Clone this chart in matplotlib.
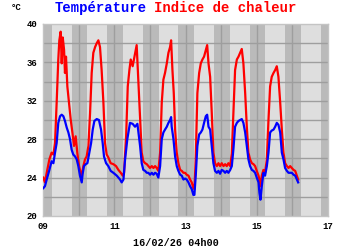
import matplotlib
matplotlib.use("Agg")
import matplotlib.pyplot as plt
import numpy as np

# ---- data (hours since 09/02 00h00) ----
temp_hours = [0.2, 1.3, 2.5, 4.3, 5.8, 7.0, 8.1, 9.2, 10.3, 11.5, 12.6, 13.7, 14.8, 16.0, 17.1,
              18.2, 19.3, 20.4, 21.6, 22.7, 23.8, 24.9, 26.1, 26.7, 27.6, 28.8, 29.9, 31.2, 32.4,
              33.5, 34.6, 36.2, 37.7, 39.1, 40.2, 41.1, 42.5, 44.0, 45.6, 47.4, 49.7, 51.9, 53.0,
              54.2, 55.3, 56.8, 58.6, 60.4, 62.0, 63.6, 64.9,
              65.4, 66.5, 67.6, 68.8, 69.9, 71.0, 72.1, 73.3, 74.4, 75.5, 76.6, 77.7, 78.9, 80.0,
              81.1, 82.2, 83.4, 84.5, 85.6, 86.3, 86.7, 87.9, 89.0, 90.1, 91.2, 92.4, 93.5, 94.6,
              95.7, 96.8, 98.0, 99.1, 100.2, 101.3, 102.0, 102.9, 104.0, 105.2, 106.3, 107.4,
              108.5, 109.7, 110.6, 111.5, 112.6, 113.7, 114.8, 115.9, 117.1, 118.2, 119.3, 120.4,
              121.6, 122.7, 123.8, 124.9, 126.1, 127.2, 128.3,
              129.4, 130.6, 131.7, 132.8, 133.9, 135.0, 136.2, 137.3, 138.4, 139.5, 140.7, 141.8,
              142.9, 144.0, 145.2, 145.8, 146.5, 147.4, 148.5, 149.6, 150.8, 151.9, 153.0, 154.1,
              155.3, 156.4, 157.5, 158.6, 159.8, 160.9, 162.0, 163.1, 164.3, 165.4, 166.5, 167.6,
              168.8, 169.9, 171.0, 171.9]
temperature = [22.9, 23.1, 23.8, 24.8, 25.7, 25.5, 26.6, 27.6, 29.7, 30.4, 30.55, 30.4, 29.9, 29.2, 28.7,
               28.0, 26.9, 26.4, 26.2, 25.9, 25.2, 24.2, 23.5, 24.4, 25.2, 25.4, 25.5, 26.6, 27.6,
               29.0, 29.9, 30.1, 30.0, 29.0, 27.6, 26.2, 25.5, 25.2, 24.7, 24.5, 24.2, 23.8, 23.5,
               23.8, 25.9, 28.0, 29.7, 29.6, 29.3, 29.6, 28.0,
               27.3, 25.5, 24.8, 24.7, 24.5, 24.5, 24.3, 24.5, 24.3, 24.5, 24.4, 24.0, 25.2, 28.0,
               28.7, 29.0, 29.3, 29.7, 30.0, 30.3, 29.3, 28.0, 26.2, 25.2, 24.7, 24.3, 24.2, 23.8,
               23.9, 23.8, 23.5, 23.1, 22.8, 22.2, 22.2, 24.2, 27.3, 28.5, 28.7, 29.0,
               29.7, 30.4, 30.55, 29.3, 29.0, 27.3, 25.5, 24.7, 24.5, 24.7, 24.4, 24.8,
               24.7, 24.5, 24.7, 24.5, 24.8, 25.2, 27.0,
               29.3, 29.7, 29.9, 30.0, 30.1, 29.7, 28.7, 27.3, 25.9, 25.2, 24.8, 24.7,
               24.5, 24.0, 23.5, 22.4, 21.7, 23.1, 24.5, 24.2, 25.2, 26.6, 28.7, 28.9,
               29.0, 29.3, 29.7, 29.5, 28.7, 26.6, 25.9, 25.0, 24.7, 24.5, 24.5, 24.5,
               24.3, 24.2, 23.8, 23.5]

heat_hours = [0.2, 1.3, 2.5, 4.3, 5.8, 7.0, 8.1, 9.2, 10.3, 11.0, 11.9, 12.6, 13.3, 14.2, 14.8,
              15.5, 16.4, 17.5, 18.7, 19.8, 20.9, 22.0, 23.1, 24.3, 25.4, 26.1, 27.2, 28.3, 29.4,
              30.6, 31.7, 32.8, 33.9, 35.1, 36.2, 37.3, 38.4, 39.5, 40.7, 41.8, 42.9, 44.0, 45.6,
              47.4, 49.2, 50.8, 52.4, 53.7, 54.6, 56.0, 57.1, 58.2, 59.1, 60.4, 61.6,
              63.1, 64.3, 65.4, 66.5, 67.6, 68.8, 69.9, 71.0, 72.1, 73.3, 74.4, 75.5, 76.6, 77.7,
              78.9, 80.0, 81.1, 82.2, 83.4, 84.5, 85.6, 86.3, 87.2, 88.1, 89.0, 90.1, 91.2, 92.4,
              93.5, 94.6, 95.7, 96.8, 98.0, 99.1, 100.2, 101.3, 102.0, 102.9, 104.0, 105.2, 106.3,
              107.4, 108.5, 109.7, 110.6, 111.5, 112.6, 113.7, 114.8, 115.9, 117.1, 118.2, 119.3,
              120.4, 121.6, 122.7, 123.8, 124.9, 126.1, 127.2, 128.3,
              129.4, 130.6, 131.7, 132.8, 133.9, 135.0, 136.2, 137.3, 138.4, 139.5, 140.7, 141.8,
              142.9, 144.0, 145.2, 145.8, 146.5, 147.4, 148.5, 149.6, 150.8, 151.9, 153.0, 154.1,
              155.3, 156.4, 157.5, 158.6, 159.8, 160.9, 162.0, 163.1, 164.3, 165.4, 166.5, 167.6,
              168.8, 169.9, 171.0, 171.9]
heat_index = [24.0, 23.5, 24.5, 25.9, 26.6, 26.4, 27.6, 31.8, 36.3, 38.3, 39.2, 35.9, 38.6, 37.3, 34.9,
              36.6, 33.5, 31.8, 30.0, 28.7, 27.3, 28.3, 26.6, 25.2, 24.5, 24.2, 25.2, 25.9, 26.2,
              27.3, 30.7, 34.9, 37.0, 37.6, 38.0, 38.3, 37.6, 35.2, 31.8, 27.6, 26.4, 26.1, 25.5,
              25.4, 25.2, 24.8, 24.5, 24.2, 24.5, 28.3, 33.5, 35.2, 36.3, 35.6, 36.6,
              37.8, 33.8, 30.0, 26.6, 25.7, 25.5, 25.4, 25.2, 25.0, 25.2, 25.0, 25.2, 25.0, 24.7,
              26.6, 31.8, 34.2, 34.9, 35.9, 37.0, 37.6, 38.3, 35.2, 32.8, 29.0, 26.6, 25.5, 24.8,
              24.7, 24.5, 24.5, 24.3, 24.2, 23.8, 23.5, 22.9, 22.8, 25.9, 32.8, 34.9, 35.9,
              36.3, 36.6, 37.3, 37.8, 35.9, 34.5, 30.7, 26.6, 25.5, 25.2, 25.5, 25.2,
              25.5, 25.2, 25.4, 25.2, 25.5, 25.2, 26.5, 31.0,
              35.2, 36.3, 36.6, 37.0, 37.4, 35.9, 32.8, 29.3, 26.6, 25.9, 25.5, 25.4,
              25.2, 24.7, 24.2, 23.8, 23.1, 24.2, 24.8, 24.5, 25.9, 30.0, 33.5, 34.5,
              34.9, 35.2, 35.6, 34.5, 31.8, 29.0, 26.6, 25.5, 25.2, 25.0, 25.2, 25.0,
              24.8, 24.7, 24.2, 23.8]

x_ticks = [9, 11, 13, 15, 17]
x_tick_labels = ["09", "11", "13", "15", "17"]
y_ticks = [20, 24, 28, 32, 36, 40]

# ---- figure ----
fig = plt.figure(figsize=(3.5, 2.5), dpi=100)
ax = fig.add_axes([43/350, 1-216/250, 285/350, 192/250])
ax.set_facecolor("#dedede")

# night bands
dusk, dawn = 0.80, 0.245
ax.axvspan(9, 9 + dawn, color="#bababa", lw=0, zorder=0)
for d in range(9, 17):
    ax.axvspan(d + dusk, min(d + 1 + dawn, 17), color="#bababa", lw=0, zorder=0)

# grid
for d in range(10, 17):
    ax.axvline(d, color="#9e9e9e", lw=1.0, zorder=1)
for t in range(22, 40, 2):
    ax.axhline(t, color="#9e9e9e", lw=1.0, zorder=1)

td = 9 + np.array(temp_hours) / 24
hd = 9 + np.array(heat_hours) / 24
ax.plot(hd, heat_index, color="#ff0000", lw=1.6, zorder=3)
ax.plot(td, temperature, color="#0000ff", lw=1.6, zorder=4)

ax.set_xlim(9, 17)
ax.set_ylim(20, 40)
ax.set_xticks(x_ticks)
ax.set_xticklabels(x_tick_labels)
ax.set_yticks(y_ticks)
fnt = dict(family="Liberation Mono", weight="bold")
for lab in ax.get_xticklabels() + ax.get_yticklabels():
    lab.set_fontfamily("Liberation Mono")
    lab.set_fontweight("bold")
    lab.set_fontsize(6.5)
ax.tick_params(length=0, pad=4)
for s in ax.spines.values():
    s.set_color("#c4c4c4")
    s.set_linewidth(1.0)

fig.text(55/350, 1-8/250, "Température", color="#0000ff", fontsize=10,
         va="center", ha="left", **fnt)
fig.text(154.5/350, 1-8/250, "Indice de chaleur", color="#ff0000", fontsize=10,
         va="center", ha="left", **fnt)
fig.text(16/350, 1-7/250, "°C", fontsize=6.5, va="center", ha="center", **fnt)
fig.text(176/350, 1-243/250, "16/02/26 04h00", fontsize=7.3, va="center", ha="center", **fnt)

fig.savefig("out.png", dpi=100)
